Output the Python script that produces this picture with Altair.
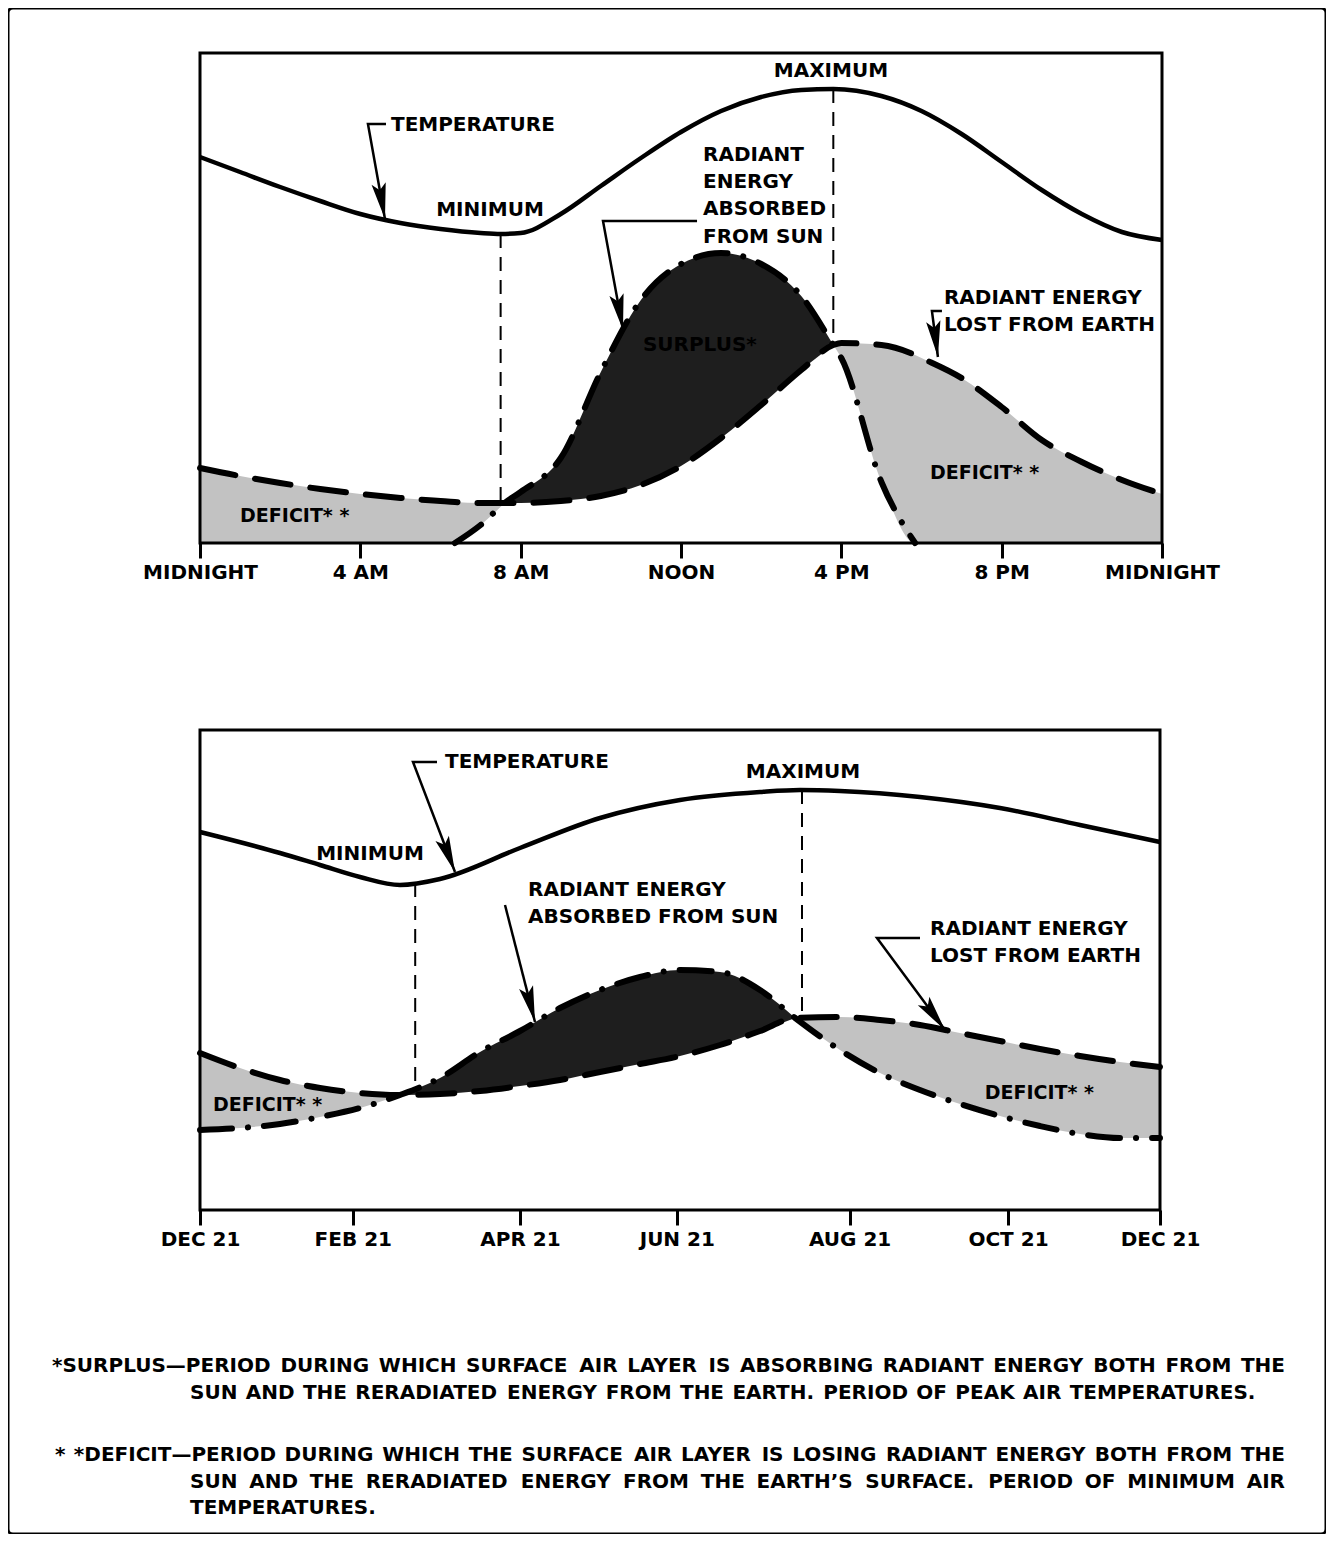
import math
import altair as alt
import pandas as pd

# ---------------- DATA ----------------
# DAILY CHANGE panel: x = hours after midnight, y = relative level above the axis
day_hours = [0, 1, 2, 3, 4, 5, 6, 6.36, 7, 7.6, 8, 9, 10, 11, 12, 13, 14, 15, 15.8, 16, 17, 17.84,
             18, 19, 20, 21, 22, 23, 24]
day_lost = [75, 67, 60, 54, 49, 45, 42, 41, 40, 40, 40, 42, 47, 58, 77, 105, 138, 173, 198, 200, 198, 188,
            185, 165, 136, 103, 81, 63, 49]
day_absorbed = [0, 0, 0, 0, 0, 0, 0, 0, 18, 40, 51, 85, 171, 243, 279, 290, 279, 247, 198, 185, 61, 0,
                0, 0, 0, 0, 0, 0, 0]
day_temp_hours = [0, 1, 2, 3, 4, 5, 6, 7, 7.5, 8, 9, 10, 11, 12, 13, 14, 15, 15.8, 17, 18, 19, 20, 21, 22, 23, 24]
day_temp = [386, 371, 356, 342, 329, 320, 314, 310, 309, 310, 329, 357, 385, 411, 432, 446, 453, 454,
            447, 432, 409, 381, 353, 329, 311, 303]
day_ticks = [0, 4, 8, 12, 16, 20, 24]
day_tick_labels = ["MIDNIGHT", "4 AM", "8 AM", "NOON", "4 PM", "8 PM", "MIDNIGHT"]
day_extremes_x = [7.5, 15.8]
day_extremes_top = [309, 454]
day_extremes_bottom = [40, 198]

# ANNUAL CHANGE panel: x = months after Dec 21
year_months = [0, 0.5, 1, 1.5, 2, 2.5, 3, 3.5, 4, 4.5, 5, 5.5, 6, 6.5, 7, 7.44, 8, 8.5, 9, 9.5, 10,
               10.5, 11, 11.5, 12]
year_lost = [157, 142, 130, 122, 117, 115, 116, 119, 124, 130, 138, 146, 154, 165, 179, 192, 193, 190,
             185, 177, 169, 161, 154, 148, 143]
year_absorbed = [80, 82, 86, 93, 102, 115, 132, 158, 179, 202, 220, 233, 240, 238, 220, 192, 160, 137,
                 120, 106, 94, 84, 76, 72, 72]
year_temp_months = [0, 1, 1.5, 2, 2.5, 3, 4, 5, 6, 7, 7.5, 8, 9, 10, 11, 12]
year_temp = [378, 357, 345, 333, 325, 331, 362, 392, 410, 418, 420, 419, 413, 402, 385, 368]
year_ticks = [0, 1.91, 4.0, 5.96, 8.12, 10.1, 12]
year_tick_labels = ["DEC 21", "FEB 21", "APR 21", "JUN 21", "AUG 21", "OCT 21", "DEC 21"]
year_extremes_x = [2.69, 7.525]
year_extremes_top = [327, 420]
year_extremes_bottom = [122, 195]

footnote_lines = [
    "*SURPLUS\u2014PERIOD DURING WHICH SURFACE AIR LAYER IS ABSORBING RADIANT ENERGY BOTH FROM THE",
    "SUN AND THE RERADIATED ENERGY FROM THE EARTH. PERIOD OF PEAK AIR TEMPERATURES.",
    "* *DEFICIT\u2014PERIOD DURING WHICH THE SURFACE AIR LAYER IS LOSING RADIANT ENERGY BOTH FROM THE",
    "SUN AND THE RERADIATED ENERGY FROM THE EARTH\u2019S SURFACE. PERIOD OF MINIMUM AIR",
    "TEMPERATURES.",
]
# left / right edge (in months of the annual axis) and height of each footnote line
footnote_left = [-1.85, -0.125, -1.8125, -0.125, -0.125]
footnote_right = [13.5625, 13.2125, 13.5625, 13.5625, None]
footnote_y = [-156, -183, -245, -272, -298]

# ---------------- LAYOUT ----------------
W, H = 1318, 1526
FONT = "DejaVu Sans"
DARK = "#1e1e1e"
GREY = "#c2c2c2"
HEAD = 36
FS = 20

KX_DAY = 962 / 24
KX_YEAR = 80.0
DAY_AXIS_Y = 535
YEAR_AXIS_Y = 1202

xs_day = alt.Scale(domain=[-192 / KX_DAY, (W - 192) / KX_DAY], nice=False, zero=False)
ys_day = alt.Scale(domain=[DAY_AXIS_Y - H, DAY_AXIS_Y], nice=False, zero=False)
xs_year = alt.Scale(domain=[-192 / KX_YEAR, (W - 192) / KX_YEAR], nice=False, zero=False)
ys_year = alt.Scale(domain=[YEAR_AXIS_Y - H, YEAR_AXIS_Y], nice=False, zero=False)

# approximate advance widths (em) of DejaVu Sans Bold, used to justify footnote words
EM = {"A": .774, "B": .762, "C": .734, "D": .830, "E": .683, "F": .683, "G": .821, "H": .837,
      "I": .372, "J": .372, "K": .775, "L": .637, "M": .995, "N": .837, "O": .850, "P": .733,
      "Q": .850, "R": .770, "S": .720, "T": .682, "U": .812, "V": .774, "W": 1.103, "X": .771,
      "Y": .724, "Z": .725, " ": .348, ".": .380, "*": .500, "\u2014": 1.0, "\u2019": .380}


def make_axis(values, labels, title, offset, title_x, title_y):
    arr = "[" + ",".join("'" + s + "'" for s in labels) + "]"
    vals = "[" + ",".join(repr(float(v)) for v in values) + "]"
    return alt.Axis(
        orient="bottom", offset=offset, values=values,
        labelExpr=arr + "[indexof(" + vals + ", datum.value)]",
        domain=False, grid=False, ticks=True, tickSize=15, tickWidth=3, tickColor="black",
        labelFont=FONT, labelFontWeight="bold", labelFontSize=FS, labelColor="black",
        labelPadding=4, labelFlush=False, labelOverlap=False,
        title=title, titleFont=FONT, titleFontWeight="bold", titleFontSize=25, titleColor="black",
        titleX=title_x, titleY=title_y, titleBaseline="middle", titleAlign="center",
    )


def regions(df):
    cross = df.index[(df["lost"] == df["absorbed"])].tolist()
    bounds = [0] + cross + [len(df) - 1]
    parts = []
    for i in range(len(bounds) - 1):
        seg = df.iloc[bounds[i]:bounds[i + 1] + 1].copy()
        surplus = (seg["absorbed"] > seg["lost"]).any()
        seg["upper"] = seg[["lost", "absorbed"]].max(axis=1)
        seg["lower"] = seg[["lost", "absorbed"]].min(axis=1)
        seg["fill"] = DARK if surplus else GREY
        seg["region"] = i
        parts.append(seg)
    return pd.concat(parts, ignore_index=True)


def arrow_frames(arrows, kx):
    lines, heads = [], []
    for i, pts in enumerate(arrows):
        for j, (x, y) in enumerate(pts):
            lines.append({"id": i, "ord": j, "x": x, "y": y})
        (x1, y1), (x2, y2) = pts[-2], pts[-1]
        dx, dy = (x2 - x1) * kx, -(y2 - y1)
        L = math.hypot(dx, dy)
        ux, uy = dx / L, dy / L
        heads.append({"x": x2 - HEAD / 2 * ux / kx, "y": y2 + HEAD / 2 * uy,
                      "ang": math.degrees(math.atan2(-ux, uy)) % 360})
    return pd.DataFrame(lines), pd.DataFrame(heads)


def footnote_words(fs, kx):
    rows = []
    for text, left, right, y in zip(footnote_lines, footnote_left, footnote_right, footnote_y):
        words = text.split(" ")
        widths = [sum(EM.get(c, 0.7) for c in w) * fs / kx for w in words]
        gap = EM[" "] * fs / kx
        if right is not None and len(words) > 1:
            gap = ((right - left) - sum(widths)) / (len(words) - 1)
        x = left
        for w, wd in zip(words, widths):
            rows.append({"text": w, "x": x, "y": y, "fs": fs})
            x += wd + gap
    return pd.DataFrame(rows)


def panel(x_vals, lost, absorbed, t_x, temp, xmax, ymax, ext_x, ext_top, ext_bot,
          xs, ys, axis, kx, left_texts, center_texts, arrows, extra=None):
    df = pd.DataFrame({"x": x_vals, "lost": lost, "absorbed": absorbed})
    reg = regions(df)
    ab = df["absorbed"]
    absorbed_df = df[(ab > 0) | (ab.shift(-1) > 0) | (ab.shift(1) > 0)]
    temp_df = pd.DataFrame({"x": t_x, "temp": temp})
    ext_df = pd.DataFrame({"x": ext_x, "top": ext_top, "bot": ext_bot})
    frame_df = pd.DataFrame({"x": [0], "x2": [xmax], "y": [0], "y2": [ymax]})
    ldf, hdf = arrow_frames(arrows, kx)

    X = lambda f: alt.X(f, scale=xs, axis=axis)
    Xn = lambda f: alt.X(f, scale=xs, title=None)
    Y = lambda f: alt.Y(f, scale=ys, axis=None, stack=None)

    layers = []
    layers.append(alt.Chart(reg).mark_area(interpolate="monotone").encode(
        x=X("x:Q"), y=Y("upper:Q"), y2="lower:Q",
        color=alt.Color("fill:N", scale=None), detail="region:N"))
    layers.append(alt.Chart(df).mark_line(
        interpolate="monotone", strokeDash=[36, 20], strokeCap="round", strokeWidth=6, color="black"
    ).encode(x=Xn("x:Q"), y=Y("lost:Q")))
    layers.append(alt.Chart(absorbed_df).mark_line(
        interpolate="monotone", strokeDash=[32, 16, 0.1, 16], strokeCap="round", strokeWidth=6,
        color="black").encode(x=Xn("x:Q"), y=Y("absorbed:Q")))
    layers.append(alt.Chart(temp_df).mark_line(
        interpolate="monotone", strokeWidth=4.5, color="black").encode(x=Xn("x:Q"), y=Y("temp:Q")))
    layers.append(alt.Chart(ext_df).mark_rule(strokeDash=[14, 9], strokeWidth=2, color="black").encode(
        x=Xn("x:Q"), y=Y("top:Q"), y2="bot:Q"))
    layers.append(alt.Chart(frame_df).mark_rect(fillOpacity=0, stroke="black", strokeWidth=3).encode(
        x=Xn("x:Q"), x2="x2:Q", y=Y("y:Q"), y2="y2:Q"))
    layers.append(alt.Chart(ldf).mark_line(strokeWidth=2.5, color="black").encode(
        x=Xn("x:Q"), y=Y("y:Q"), detail="id:N", order="ord:Q"))
    layers.append(alt.Chart(hdf).mark_point(
        shape="M0,1L-0.4,-1L0,-0.62L0.4,-1Z", size=HEAD * HEAD, filled=True, opacity=1,
        color="black", strokeWidth=0).encode(
        x=Xn("x:Q"), y=Y("y:Q"), angle=alt.Angle("ang:Q", scale=None)))
    lt = pd.DataFrame(left_texts, columns=["text", "x", "y", "fs"])
    layers.append(alt.Chart(lt).mark_text(
        align="left", baseline="middle", font=FONT, fontWeight="bold", color="black"
    ).encode(x=Xn("x:Q"), y=Y("y:Q"), text="text:N", size=alt.Size("fs:Q", scale=None)))
    ct = pd.DataFrame(center_texts, columns=["text", "x", "y", "fs"])
    layers.append(alt.Chart(ct).mark_text(
        align="center", baseline="middle", font=FONT, fontWeight="bold", color="black"
    ).encode(x=Xn("x:Q"), y=Y("y:Q"), text="text:N", size=alt.Size("fs:Q", scale=None)))
    if extra is not None:
        layers.append(alt.Chart(extra).mark_text(
            align="left", baseline="middle", font=FONT, fontWeight="bold", color="black"
        ).encode(x=Xn("x:Q"), y=Y("y:Q"), text="text:N", size=alt.Size("fs:Q", scale=None)))
    return alt.layer(*layers)


day_axis = make_axis(day_ticks, day_tick_labels, "DAILY CHANGE", -(H - DAY_AXIS_Y), 669, 69)
year_axis = make_axis(year_ticks, year_tick_labels, "ANNUAL CHANGE", -(H - YEAR_AXIS_Y), 668, 71)

day_left = [
    ("TEMPERATURE", 4.765, 418, FS),
    ("RADIANT", 12.55, 388, FS), ("ENERGY", 12.55, 361, FS), ("ABSORBED", 12.55, 334, FS),
    ("FROM SUN", 12.55, 306, FS),
    ("RADIANT ENERGY", 18.56, 245, FS), ("LOST FROM EARTH", 18.56, 218, FS),
    ("DEFICIT* *", 1.0, 27, 19), ("DEFICIT* *", 18.21, 70, 19),
]
day_center = [("MAXIMUM", 15.74, 472, FS), ("MINIMUM", 7.235, 333, FS), ("SURPLUS*", 12.47, 198, FS)]
day_arrows = [
    [(4.64, 419), (4.19, 419), (4.615, 324)],
    [(12.40, 322), (10.054, 322), (10.553, 213)],
    [(18.51, 232), (18.26, 232), (18.41, 186)],
]

year_left = [
    ("TEMPERATURE", 3.0625, 448, FS),
    ("RADIANT ENERGY", 4.1, 320, FS), ("ABSORBED FROM SUN", 4.1, 293, FS),
    ("RADIANT ENERGY", 9.125, 281, FS), ("LOST FROM EARTH", 9.125, 254, FS),
    ("DEFICIT* *", 0.1625, 105, 19), ("DEFICIT* *", 9.81, 117, 19),
]
year_center = [("MAXIMUM", 7.5375, 438, FS), ("MINIMUM", 2.125, 356, FS)]
year_arrows = [
    [(2.9625, 448), (2.6625, 448), (3.1875, 338)],
    [(3.8125, 305), (4.1875, 188)],
    [(9.0, 272), (8.4625, 272), (9.3125, 180)],
]

foot_df = footnote_words(20, KX_YEAR)

top = panel(day_hours, day_lost, day_absorbed, day_temp_hours, day_temp, 24, 490,
            day_extremes_x, day_extremes_top, day_extremes_bottom,
            xs_day, ys_day, day_axis, KX_DAY, day_left, day_center, day_arrows)
bottom = panel(year_months, year_lost, year_absorbed, year_temp_months, year_temp, 12, 480,
               year_extremes_x, year_extremes_top, year_extremes_bottom,
               xs_year, ys_year, year_axis, KX_YEAR, year_left, year_center, year_arrows,
               extra=foot_df)

chart = alt.layer(top, bottom).resolve_scale(
    x="independent", y="independent"
).resolve_axis(x="independent", y="independent").properties(
    width=W, height=H, padding=0, background="white"
).configure_view(stroke="black", strokeWidth=3, cornerRadius=5).configure_axis(grid=False)

chart.save("out.html", embed_options={"renderer": "svg", "actions": False})
